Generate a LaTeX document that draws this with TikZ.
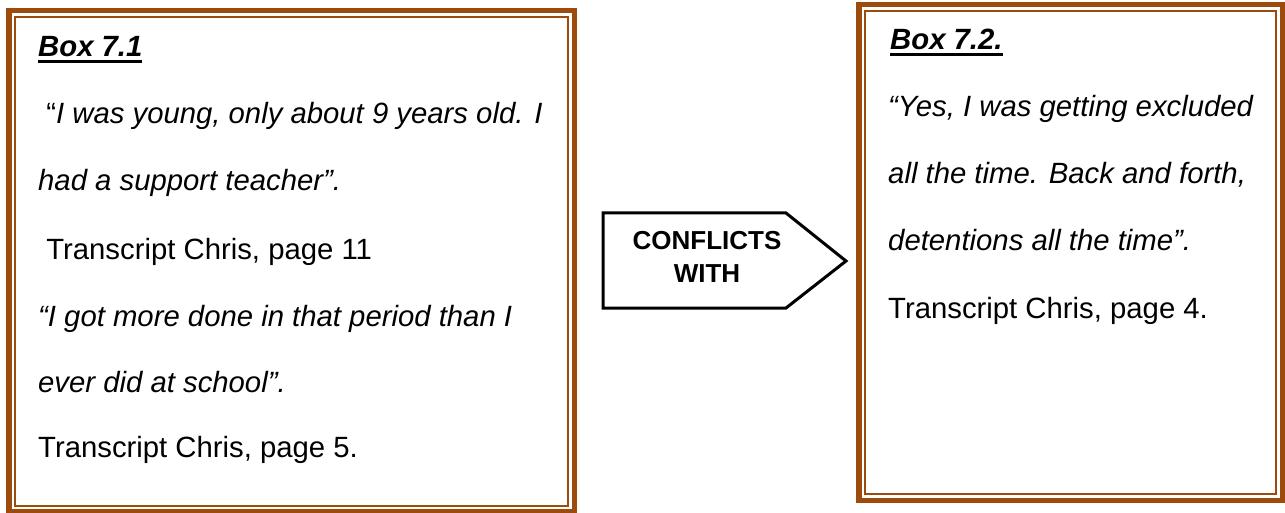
\documentclass[tikz,border=0pt]{standalone}
\usepackage{fontspec}
\setmainfont{Liberation Sans}
\definecolor{boxbrown}{RGB}{156,75,12}
\newcommand\ulhead[1]{\setbox0\hbox{#1}\rlap{\rule[-6pt]{\wd0}{3pt}}\box0}
\tikzset{
  quote/.style={anchor=base west, inner sep=0pt, font=\fontsize{29.3}{34}\selectfont},
  headline/.style={quote, font=\fontsize{29.3}{34}\selectfont\bfseries\itshape},
  thickframe/.style={draw=boxbrown, line width=5.5pt},
  thinframe/.style={draw=boxbrown, line width=2pt},
  arrowshape/.style={draw=black, line width=3pt, line join=miter, fill=white},
  arrowtext/.style={anchor=base, inner sep=0pt, font=\fontsize{26}{33}\selectfont\bfseries}
}
\begin{document}
\begin{tikzpicture}[x=1pt,y=-1pt]
\useasboundingbox (0,0) rectangle (1285,513);
% Box 7.1 frame
\draw[thickframe] (8.75,10.75) rectangle (574.25,511.5);
\draw[thinframe] (14.75,16.75) rectangle (568.25,505.5);
% Box 7.2 frame
\draw[thickframe] (858.75,4.75) rectangle (1282.25,500.25);
\draw[thinframe] (864.75,10.75) rectangle (1276.25,494.25);
% Box 7.1 text
\node[headline] (h1) at (38,57) {\ulhead{Box 7.1}};
\node[quote] (a1) at (38,124) {\ “\textit{I was young, only about 9 years old. I}};
\node[quote] (a2) at (38,191) {\textit{had a support teacher”.}};
\node[quote] (a3) at (38,259) {\ Transcript Chris, page 11};
\node[quote] (a4) at (38,326) {\textit{“I got more done in that period than I}};
\node[quote] (a5) at (38,392) {\textit{ever did at school”.}};
\node[quote] (a6) at (38,457) {Transcript Chris, page 5.};
% Box 7.2 text
\node[headline] (h2) at (890,50) {\ulhead{Box 7.2.}};
\node[quote] (b1) at (888,117) {\textit{“Yes, I was getting excluded}};
\node[quote] (b2) at (888,184) {\textit{all the time. Back and forth,}};
\node[quote] (b3) at (888,251) {\textit{detentions all the time”.}};
\node[quote] (b4) at (888,318) {Transcript Chris, page 4.};
% Arrow
\draw[arrowshape] (603,213) -- (786,213) -- (846,261) -- (786,308) -- (603,308) -- cycle;
\node[arrowtext] (c1) at (707,249) {CONFLICTS};
\node[arrowtext] (c2) at (707,282) {WITH};
\end{tikzpicture}
\end{document}
